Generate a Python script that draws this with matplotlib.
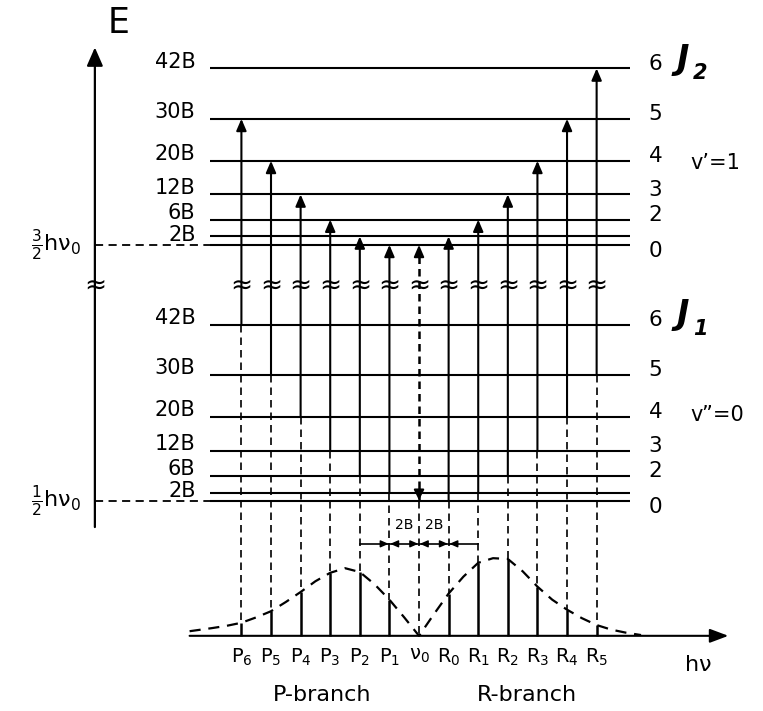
import numpy as np
import matplotlib.pyplot as plt

plt.rcParams['font.family'] = 'DejaVu Sans'
plt.rcParams['mathtext.fontset'] = 'dejavusans'
plt.rcParams['mathtext.default'] = 'regular'

# rotational levels: J and energy in units of B
J_levels = [0, 1, 2, 3, 4, 5, 6]
E_levels = [0, 2, 6, 12, 20, 30, 42]
E_names = ['', '2B', '6B', '12B', '20B', '30B', '42B']
J_names = ['0', '', '2', '3', '4', '5', '6']

# P branch (J' = J'' - 1) and R branch (J' = J'' + 1)
p_lower = [6, 5, 4, 3, 2, 1]
p_pos = [-12, -10, -8, -6, -4, -2]
p_int = [0.17, 0.32, 0.57, 0.82, 0.83, 0.47]
p_names = ['P$_6$', 'P$_5$', 'P$_4$', 'P$_3$', 'P$_2$', 'P$_1$']

r_lower = [0, 1, 2, 3, 4, 5]
r_pos = [2, 4, 6, 8, 10, 12]
r_int = [0.55, 0.95, 1.0, 0.64, 0.34, 0.14]
r_names = ['R$_0$', 'R$_1$', 'R$_2$', 'R$_3$', 'R$_4$', 'R$_5$']

# band envelope
env_x = [-15.5, -14, -13, -12, -11, -10, -9, -8, -7, -6, -5, -4, -3, -2, -1, 0,
         1, 2, 3, 4, 5, 6, 7, 8, 9, 10, 11, 12, 13, 14, 15]
env_y = [0.06, 0.10, 0.13, 0.17, 0.24, 0.32, 0.44, 0.57, 0.71, 0.82, 0.88, 0.83,
         0.67, 0.47, 0.24, 0.0, 0.28, 0.55, 0.77, 0.95, 1.01, 1.0, 0.84, 0.64,
         0.47, 0.34, 0.23, 0.14, 0.08, 0.04, 0.01]

gap = 61.0        # vertical offset of the v'=1 ladder
base = -32.1      # spectrum baseline
iscale = 18.3     # intensity -> plot units
x_lev = (-14.1, 14.26)
x_E = -21.9
y_brk = 51.4

fig = plt.figure(figsize=(7.63, 7.11), dpi=100)
ax = fig.add_axes([0, 0, 1, 1])
ax.set_xlim(-28.31, 23.24)
ax.set_ylim(-50.0, 119.29)
ax.axis('off')

dash = (0, (4.5, 3))

def arrow(x0, y0, x1, y1, ms=10, hl=0.7, hw=0.3, lw=1.5, ls='-'):
    ax.annotate('', xy=(x1, y1), xytext=(x0, y0),
                arrowprops=dict(arrowstyle=f'-|>,head_length={hl},head_width={hw}',
                                lw=lw, color='k', ls=ls, shrinkA=0, shrinkB=0,
                                mutation_scale=ms))

def brk(x):
    ax.text(x, y_brk, '≈', ha='center', va='center', fontsize=19)

# energy levels, both ladders
for off in (0, gap):
    for E, name in zip(E_levels, E_names):
        ax.plot(x_lev, [off + E, off + E], color='k', lw=1.5, solid_capstyle='butt')
        if name:
            dy = -1.0 if name == '2B' else 0.2
            ax.text(-15.1, off + E + dy, name, ha='right', va='baseline', fontsize=15)
    for E, name in zip(E_levels, J_names):
        if name:
            dy = -1.4 if name == '0' else 1.1
            ax.text(15.5, off + E + dy, name, ha='left', va='center', fontsize=15.5)

# energy axis
arrow(x_E, -6.2, x_E, 108.0, ms=14, hl=0.8, hw=0.35, lw=1.6)
ax.text(x_E + 1.6, 113.8, 'E', ha='center', va='center', fontsize=25)
brk(x_E)
for y in (0, gap):
    ax.plot([x_E, x_lev[0]], [y, y], color='k', lw=1.3, ls=dash)
ax.text(x_E - 0.9, gap, r'$\frac{3}{2}h\nu_0$', ha='right', va='center', fontsize=16)
ax.text(x_E - 0.9, 0, r'$\frac{1}{2}h\nu_0$', ha='right', va='center', fontsize=16)

# transitions and their projections onto the spectrum
for Jl, x, I in zip(p_lower + r_lower, p_pos + r_pos, p_int + r_int):
    Ju = Jl - 1 if x < 0 else Jl + 1
    arrow(x, E_levels[Jl], x, gap + E_levels[Ju])
    brk(x)
    ax.plot([x, x], [E_levels[Jl], base + iscale * I], color='k', lw=1.2, ls=dash)
    ax.plot([x, x], [base, base + iscale * I], color='k', lw=1.8, solid_capstyle='butt')

# forbidden Q(0) line at nu0
ax.plot([0, 0], [0, gap - 2], color='k', lw=1.8, ls=(0, (3, 2)))
arrow(0, gap - 3, 0, gap)
arrow(0, 2.5, 0, 0.2, hl=0.6)
brk(0)
ax.plot([0, 0], [0, base], color='k', lw=1.2, ls=dash)

# spectrum axis and envelope
arrow(-15.5, base, 20.9, base, ms=14, hl=0.8, hw=0.3, lw=1.5)
ax.plot(env_x, [base + iscale * v for v in env_y], color='k', lw=1.6, ls=(0, (5, 3.5)))
for x, name in zip(p_pos + [0] + r_pos, p_names + [r'$\nu_0$'] + r_names):
    ax.text(x, -34.6, name, ha='center', va='top', fontsize=14)
ax.text(-6.55, -46.2, 'P-branch', ha='center', va='center', fontsize=16)
ax.text(7.3, -46.2, 'R-branch', ha='center', va='center', fontsize=16)
ax.text(18.85, -39.0, r'$h\nu$', ha='center', va='center', fontsize=16)

# 2B spacing marks
y_dim = -10.2
ax.plot([-4, 4], [y_dim, y_dim], color='k', lw=1.2)
for xt in (-2, 0, 2):
    arrow(xt - 0.6, y_dim, xt - 0.05, y_dim, ms=6, hl=0.8, hw=0.35, lw=1.0)
    arrow(xt + 0.6, y_dim, xt + 0.05, y_dim, ms=6, hl=0.8, hw=0.35, lw=1.0)
ax.text(-1, -5.7, '2B', ha='center', va='center', fontsize=10)
ax.text(1, -5.7, '2B', ha='center', va='center', fontsize=10)

# J labels and vibrational quantum numbers
for y, sub in ((gap + 44.2, '2'), (44.3, '1')):
    ax.text(17.84, y, 'J', ha='center', va='center', fontsize=24,
            fontweight='bold', fontstyle='italic')
    ax.text(18.99, y - 3.3, sub, ha='center', va='center', fontsize=15,
            fontweight='bold', fontstyle='italic')
ax.text(18.3, gap + 19.5, 'v’=1', ha='left', va='center', fontsize=15)
ax.text(18.3, 20.5, 'v”=0', ha='left', va='center', fontsize=15)

fig.savefig('out.png', dpi=100, facecolor='white')
